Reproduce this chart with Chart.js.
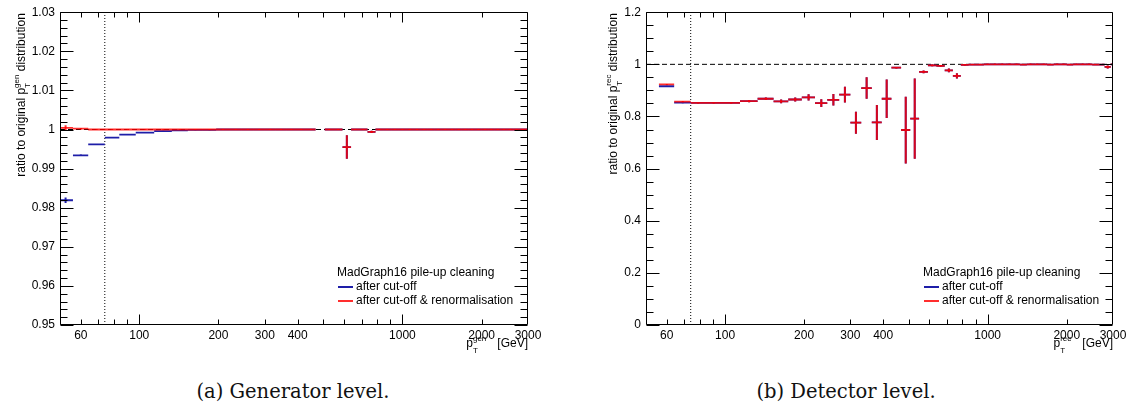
<!DOCTYPE html>
<html>
<head>
<meta charset="utf-8">
<script src="https://cdn.jsdelivr.net/npm/chart.js@4.4.1/dist/chart.umd.min.js"></script>
<style>
  body { margin: 0; background: #fff; width: 1130px; height: 412px; position: relative; overflow: hidden; }
  canvas { position: absolute; top: 0; }
  #genChart { left: 0; }
  #recChart { left: 560px; }
  .caption { position: absolute; top: 380px; font-family: "DejaVu Serif", serif; font-size: 19.5px; color: #111; transform: translateX(-50%); white-space: nowrap; }
</style>
</head>
<body>
<canvas id="genChart" width="560" height="362"></canvas>
<canvas id="recChart" width="570" height="362"></canvas>
<div class="caption" style="left:293px">(a) Generator level.</div>
<div class="caption" style="left:846px">(b) Detector level.</div>
<script>
// jet pT binning in GeV
var binEdges = [49, 56, 64, 74, 84, 97, 114, 133, 153, 174, 196, 220, 245, 272, 300, 330, 362, 395, 430, 468,
  507, 548, 592, 638, 686, 737, 790, 846, 905, 967, 1032, 1101, 1172, 1248, 1327, 1410, 1497, 1588, 1684, 1784,
  1890, 2000, 2116, 2238, 2366, 2500, 2640, 2787, 2941, 3103];

// generator level ratios
var genCut = [0.9819, 0.9934, 0.9962, 0.9979, 0.9987, 0.9992, 0.9996, 0.9998, 0.9999, 0.9999,
  1.0000, 1.0000, 1.0000, 1.0000, 1.0000, 1.0000, 1.0000, 1.0000, 1.0000, null,
  1.0000, 1.0000, 0.9955, 1.0000, 1.0000, 0.9994, 1.0000, 1.0000, 1.0000, 1.0000,
  1.0000, 1.0000, 1.0000, 1.0000, 1.0000, 1.0000, 1.0000, 1.0000, 1.0000, 1.0000,
  1.0000, 1.0000, 1.0000, 1.0000, 1.0000, 1.0000, 1.0000, 1.0000, 1.0000];
var genRenorm = [1.0004, 1.0002, 1.0000, 1.0000, 1.0000, 1.0000, 1.0000, 1.0000, 1.0000, 1.0000,
  1.0000, 1.0000, 1.0000, 1.0000, 1.0000, 1.0000, 1.0000, 1.0000, 1.0000, null,
  1.0000, 1.0000, 0.9955, 1.0000, 1.0000, 0.9994, 1.0000, 1.0000, 1.0000, 1.0000,
  1.0000, 1.0000, 1.0000, 1.0000, 1.0000, 1.0000, 1.0000, 1.0000, 1.0000, 1.0000,
  1.0000, 1.0000, 1.0000, 1.0000, 1.0000, 1.0000, 1.0000, 1.0000, 1.0000];
var genErr = [0.0007, 0.0002, 0.0001, 0.0001, 0.0001, 0.0001, 0.0001, 0.0001, 0.0001, 0.0001,
  0.0001, 0.0001, 0.0001, 0.0001, 0.0001, 0.0001, 0.0001, 0.0001, 0.0001, 0,
  0.0001, 0.0001, 0.0030, 0.0001, 0.0001, 0.0003, 0.0001, 0.0001, 0.0001, 0.0001,
  0.0001, 0.0001, 0.0001, 0.0001, 0.0001, 0.0001, 0.0001, 0.0001, 0.0001, 0.0001,
  0.0001, 0.0001, 0.0001, 0.0001, 0.0001, 0.0001, 0.0001, 0.0001, 0.0001];

// detector level ratios
var recCut = [null, 0.916, 0.853, 0.852, 0.852, 0.852, 0.859, 0.868, 0.858, 0.865,
  0.873, 0.851, 0.864, 0.884, 0.776, 0.909, 0.777, 0.868, 0.987, 0.748,
  0.792, 0.971, 0.996, 0.994, 0.977, 0.956, 0.998, 0.999, 0.999, 1.000,
  1.000, 1.000, 1.000, 1.000, 0.999, 1.000, 1.000, 1.000, 0.999, 1.000,
  1.000, 0.999, 1.000, 1.000, 1.000, 0.999, 0.999, 0.990, 1.000];
var recRenorm = [null, 0.923, 0.857, 0.852, 0.852, 0.852, 0.859, 0.868, 0.858, 0.865,
  0.873, 0.851, 0.864, 0.884, 0.776, 0.909, 0.777, 0.868, 0.987, 0.748,
  0.792, 0.971, 0.996, 0.994, 0.977, 0.956, 0.998, 0.999, 0.999, 1.000,
  1.000, 1.000, 1.000, 1.000, 0.999, 1.000, 1.000, 1.000, 0.999, 1.000,
  1.000, 0.999, 1.000, 1.000, 1.000, 0.999, 0.999, 0.990, 1.000];
var recErr = [0, 0.002, 0.002, 0.002, 0.002, 0.002, 0.004, 0.005, 0.007, 0.008,
  0.012, 0.015, 0.022, 0.030, 0.042, 0.041, 0.067, 0.074, 0.003, 0.128,
  0.154, 0.005, 0.003, 0.003, 0.007, 0.010, 0.002, 0.002, 0.002, 0.002,
  0.002, 0.002, 0.002, 0.002, 0.002, 0.002, 0.002, 0.002, 0.002, 0.002,
  0.002, 0.002, 0.002, 0.002, 0.002, 0.002, 0.002, 0.006, 0.002];

var cutValue = 74;   // pT cut-off
var refLevel = 1;

// axis ticks
var xTicks = [50, 60, 70, 80, 90, 100, 200, 300, 400, 500, 600, 700, 800, 900, 1000, 2000, 3000];
var xLabels = [60, 100, 200, 300, 400, 1000, 2000, 3000];
var genYLabels = [0.95, 0.96, 0.97, 0.98, 0.99, 1, 1.01, 1.02, 1.03];
var recYLabels = [0, 0.2, 0.4, 0.6, 0.8, 1, 1.2];

var legendTitle = 'MadGraph16 pile-up cleaning';
var seriesNames = ['after cut-off', 'after cut-off & renormalisation'];
var blue = '#1e1ea8';
var red = 'rgba(255,0,0,0.82)';
var FONT = '"Liberation Sans", Arial, sans-serif';

function stepPoints(values) {
  var pts = [];
  values.forEach(function(v, i) {
    if (v === null) return;
    pts.push({x: binEdges[i], y: v}, {x: binEdges[i + 1], y: v}, {x: binEdges[i + 1], y: null});
  });
  return pts;
}
function errorPoints(values, errors) {
  var pts = [];
  values.forEach(function(v, i) {
    if (v === null) return;
    var c = (binEdges[i] + binEdges[i + 1]) / 2;
    pts.push({x: c, y: v - errors[i]}, {x: c, y: v + errors[i]}, {x: c, y: null});
  });
  return pts;
}
function lineSet(data, color, width, dash, order, label) {
  return {label: label, data: data, showLine: true, spanGaps: false, borderColor: color, borderWidth: width,
    borderDash: dash || [], pointRadius: 0, order: order};
}
function near(list, v) {
  for (var i = 0; i < list.length; i++) if (Math.abs(list[i] - v) < 1e-9) return list[i];
  return null;
}
function yTickValues(min, max, step) {
  var t = [];
  for (var k = 0; min + k * step <= max + 1e-9; k++) t.push(Math.round((min + k * step) * 1e6) / 1e6);
  return t;
}

// ROOT style frame: inward ticks on all sides, axis titles and legend
function rootFrame(p) {
  return {
    id: 'rootFrame',
    afterDraw: function(chart) {
      var ctx = chart.ctx, a = chart.chartArea, x = chart.scales.x, y = chart.scales.y;
      ctx.save();
      ctx.setLineDash([]);
      ctx.strokeStyle = '#000';
      ctx.lineWidth = 1;
      var L = Math.round(a.left) + 0.5, R = Math.round(a.right) - 0.5, T = Math.round(a.top) + 0.5, B = Math.round(a.bottom) - 0.5;
      ctx.beginPath();
      ctx.rect(L, T, R - L, B - T);
      xTicks.forEach(function(v) {
        var px = Math.round(x.getPixelForValue(v)) + 0.5;
        if (px < L || px > R) return;
        var len = (v === 100 || v === 1000) ? 10 : 5;
        ctx.moveTo(px, B); ctx.lineTo(px, B - len);
        ctx.moveTo(px, T); ctx.lineTo(px, T + len);
      });
      p.yTicks.forEach(function(v) {
        var py = Math.round(y.getPixelForValue(v)) + 0.5;
        var len = near(p.yLabels, v) !== null ? 13 : 7;
        ctx.moveTo(L, py); ctx.lineTo(L + len, py);
        ctx.moveTo(R, py); ctx.lineTo(R - len, py);
      });
      ctx.stroke();

      ctx.fillStyle = '#000';
      // x title: p_T^sup [GeV]
      var base = 347;
      ctx.textBaseline = 'alphabetic';
      ctx.font = '12px ' + FONT;
      ctx.textAlign = 'right';
      ctx.fillText('[GeV]', a.right, base);
      var end = a.right - ctx.measureText('[GeV]').width - 11;
      ctx.font = '8px ' + FONT;
      var ws = Math.max(ctx.measureText(p.sup).width, ctx.measureText('T').width);
      ctx.textAlign = 'left';
      ctx.fillText(p.sup, end - ws, base - 6);
      ctx.fillText('T', end - ws, base + 6);
      ctx.font = '12px ' + FONT;
      ctx.textAlign = 'right';
      ctx.fillText('p', end - ws, base);

      // y title, rotated and aligned to the top of the frame
      ctx.save();
      ctx.translate(p.yTitleX, 0);
      ctx.rotate(-Math.PI / 2);
      ctx.textAlign = 'left';
      ctx.font = '12px ' + FONT;
      var w1 = ctx.measureText('ratio to original p').width;
      var w3 = ctx.measureText(' distribution').width;
      ctx.font = '8px ' + FONT;
      var w2 = Math.max(ctx.measureText(p.sup).width, ctx.measureText('T').width);
      var sx = -(a.top + 1) - (w1 + w2 + w3);
      ctx.font = '12px ' + FONT;
      ctx.fillText('ratio to original p', sx, 0);
      ctx.fillText(' distribution', sx + w1 + w2, 0);
      ctx.font = '8px ' + FONT;
      ctx.fillText(p.sup, sx + w1, -6);
      ctx.fillText('T', sx + w1, 5);
      ctx.restore();

      // legend
      ctx.textAlign = 'left';
      ctx.textBaseline = 'middle';
      ctx.font = '12px ' + FONT;
      ctx.fillText(legendTitle, p.legendX, 273);
      [blue, red].forEach(function(c, i) {
        var ly = 287 + i * 14;
        ctx.strokeStyle = c;
        ctx.lineWidth = 2;
        ctx.beginPath();
        ctx.moveTo(p.legendX + 1, ly); ctx.lineTo(p.legendX + 16, ly);
        ctx.stroke();
        ctx.fillText(seriesNames[i], p.legendX + 19, ly);
      });
      ctx.restore();
    }
  };
}

function makeChart(id, cut, renorm, err, yMin, yMax, yStep, yLabels, p) {
  p.yTicks = yTickValues(yMin, yMax, yStep);
  p.yLabels = yLabels;
  var datasets = [
    lineSet(errorPoints(renorm, err), red, 2, null, 0, seriesNames[1]),
    lineSet(stepPoints(renorm), red, 1.8, null, 1, seriesNames[1]),
    lineSet(errorPoints(cut, err), blue, 2, null, 2, seriesNames[0]),
    lineSet(stepPoints(cut), blue, 1.8, null, 3, seriesNames[0]),
    lineSet([{x: 50, y: refLevel}, {x: 3000, y: refLevel}], '#000', 1, [5, 3], 4, 'ref'),
    lineSet([{x: cutValue, y: yMin}, {x: cutValue, y: yMax}], '#000', 1, [1, 2], 5, 'cut')
  ];
  return new Chart(document.getElementById(id), {
    type: 'scatter',
    data: {datasets: datasets},
    options: {
      responsive: false,
      animation: false,
      layout: {padding: {left: 0, top: 7, right: p.padRight, bottom: 0}},
      plugins: {legend: {display: false}, tooltip: {enabled: false}},
      scales: {
        x: {
          type: 'logarithmic', min: 50, max: 3000,
          afterBuildTicks: function(s) { s.ticks = xTicks.map(function(v) { return {value: v}; }); },
          afterFit: function(s) { s.height = 37; },
          grid: {display: false, drawTicks: false},
          border: {display: false},
          ticks: {
            autoSkip: false, maxRotation: 0, padding: 3, color: '#000',
            font: {family: FONT, size: 12},
            callback: function(v) { return xLabels.indexOf(v) >= 0 ? String(v) : ''; }
          }
        },
        y: {
          type: 'linear', min: yMin, max: yMax,
          afterBuildTicks: function(s) { s.ticks = p.yTicks.map(function(v) { return {value: v}; }); },
          afterFit: function(s) { s.width = p.axisWidth; },
          grid: {display: false, drawTicks: false},
          border: {display: false},
          ticks: {
            autoSkip: false, padding: 5, color: '#000',
            font: {family: FONT, size: 12},
            callback: function(v) { var l = near(yLabels, v); return l === null ? '' : String(l); }
          }
        }
      }
    },
    plugins: [rootFrame(p)]
  });
}

makeChart('genChart', genCut, genRenorm, genErr, 0.95, 1.03, 0.002, genYLabels,
  {padRight: 32, axisWidth: 60, sup: 'gen', yTitleX: 25, legendX: 337});
makeChart('recChart', recCut, recRenorm, recErr, 0, 1.2, 0.05, recYLabels,
  {padRight: 17, axisWidth: 86, sup: 'rec', yTitleX: 57, legendX: 363});
</script>
</body>
</html>
